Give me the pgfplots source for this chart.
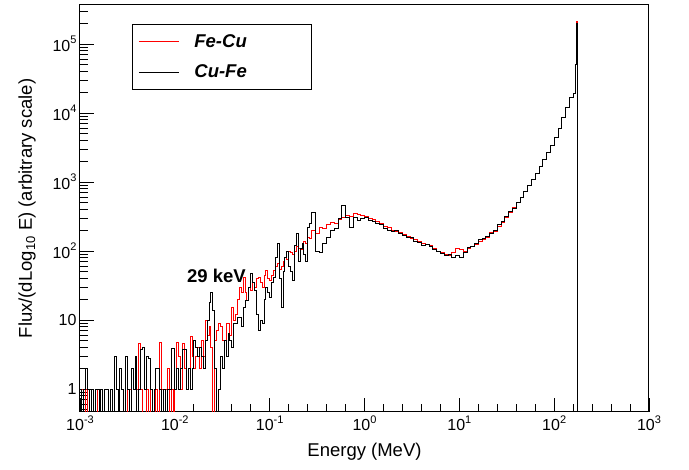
\documentclass[border=0pt]{standalone}
\usepackage{fontspec}
\setmainfont{Liberation Sans}
\usepackage{pgfplots}
\usepackage{pgfplotstable}
\pgfplotsset{compat=1.18}
\newcommand\sups[1]{\raisebox{0.48em}{\fontsize{11}{11}\selectfont #1}}

% E = left bin edge (MeV); red = Fe-Cu; black = Cu-Fe; 0.3 = empty bin (below axis)
\pgfplotstableread{
E red black
1.000e-3 1 1
1.047e-3 1 0.3
1.096e-3 0.3 1
1.148e-3 1 2
1.202e-3 0.3 1
1.259e-3 0.3 0.3
1.318e-3 1 1
1.380e-3 0.3 0.3
1.445e-3 0.3 1
1.514e-3 1 1
1.585e-3 1 0.3
1.660e-3 0.3 1
1.738e-3 0.3 0.3
1.820e-3 0.3 1
1.905e-3 0.3 1
1.995e-3 0.3 0.3
2.089e-3 0.3 1
2.188e-3 0.3 0.3
2.291e-3 0.3 3
2.399e-3 0.3 1
2.512e-3 1 0.3
2.630e-3 0.3 2
2.754e-3 0.3 1
2.884e-3 0.3 0.3
3.020e-3 0.3 3
3.162e-3 1 1
3.311e-3 1 0.3
3.467e-3 0.3 2
3.631e-3 0.3 1
3.802e-3 0.3 3
3.981e-3 1 0.3
4.169e-3 4.6 1
4.365e-3 1 3.7
4.571e-3 0.3 4
4.786e-3 0.3 1
5.012e-3 1 3
5.248e-3 0.3 2.8
5.495e-3 1 1
5.754e-3 0.3 0.3
6.026e-3 0.3 1
6.310e-3 1 2
6.607e-3 0.3 2
6.918e-3 4.8 1
7.244e-3 1 0.3
7.586e-3 0.3 1
7.943e-3 1 0.3
8.318e-3 2 1
8.710e-3 0.3 1
9.120e-3 1 3.9
9.550e-3 0.3 3.9
1.000e-2 1 1
1.047e-2 4.8 2
1.096e-2 3 1
1.148e-2 1 2
1.202e-2 4.6 3.7
1.259e-2 2 3.7
1.318e-2 1 1
1.380e-2 2 2
1.445e-2 5.7 1
1.514e-2 3 2
1.585e-2 2 5
1.660e-2 3 4
1.738e-2 4 3
1.820e-2 2 4
1.905e-2 5 3
1.995e-2 3 2
2.089e-2 10 5
2.188e-2 6 10
2.291e-2 8 18
2.399e-2 4 25
2.512e-2 0.3 14
2.630e-2 5 2
2.754e-2 7 0.3
2.884e-2 9 1
3.020e-2 8 3
3.162e-2 5 2
3.311e-2 5 5
3.467e-2 9 3
3.631e-2 9 6.5
3.802e-2 6 5
3.981e-2 15 4
4.169e-2 10 9
4.365e-2 12 9
4.571e-2 20 11
4.786e-2 30 11
5.012e-2 25 8
5.248e-2 42 15
5.495e-2 25 19
5.754e-2 19 19
6.026e-2 30 30
6.310e-2 27 48
6.607e-2 35 35
6.918e-2 30 27
7.244e-2 40 12
7.586e-2 42 7
7.943e-2 35 10
8.318e-2 30 9
8.710e-2 45 20
9.120e-2 53 30
9.550e-2 40 25
1.000e-1 38 21
1.047e-1 45 35
1.096e-1 53 42
1.148e-1 60 80
1.202e-1 67 130
1.259e-1 55 40
1.318e-1 60 15
1.380e-1 70 50
1.445e-1 82 82
1.514e-1 75 100
1.585e-1 100 60
1.660e-1 95 50
1.738e-1 90 38
1.820e-1 100 120
1.905e-1 115 180
1.995e-1 110 70
2.089e-1 105 110
2.188e-1 120 130
2.291e-1 140 90
2.399e-1 130 70
2.512e-1 160 220
2.630e-1 150 250
2.754e-1 200 360
3.020e-1 180 100
3.311e-1 220 96
3.631e-1 210 130
3.981e-1 240 160
4.365e-1 260 200
4.786e-1 250 215
5.248e-1 290 300
5.754e-1 310 465
6.310e-1 330 310
6.918e-1 320 220
7.586e-1 355 310
8.318e-1 340 280
9.120e-1 330 300
1.000 320 310
1.096 300 280
1.202 290 270
1.318 270 255
1.445 255 240
1.585 230 210
1.738 220 200
1.905 200 190
2.089 195 200
2.291 185 180
2.512 175 170
2.754 165 160
3.020 150 155
3.311 145 140
3.631 140 135
3.981 130 120
4.365 125 125
4.786 120 118
5.248 110 105
5.754 100 100
6.310 95 92
6.918 90 85
7.586 85 88
8.318 95 80
9.120 110 85
10.00 105 80
10.96 100 95
12.02 110 112
13.18 115 118
14.45 125 130
15.85 140 145
17.38 145 150
19.05 160 165
20.89 185 182
22.91 195 200
25.12 225 240
27.54 260 270
30.20 310 320
33.11 360 370
36.31 430 420
39.81 510 500
43.65 600 600
47.86 730 720
52.48 880 900
57.54 1100 1100
63.10 1350 1350
69.18 1700 1700
75.86 2100 2100
83.18 2700 2700
91.20 3400 3400
100.0 4500 4500
109.6 6000 6000
120.2 8500 8500
131.8 12000 12000
144.5 17000 17000
158.5 19000 19000
166.0 50000 50000
170.0 210000 200000
174.0 0.3 0.3
1000 0.3 0.3
}\spectrum

\begin{document}
\begin{tikzpicture}
\begin{axis}[
  scale only axis, width=569pt, height=407pt,
  xmode=log, ymode=log,
  xmin=1e-3, xmax=1e3, ymin=0.465, ymax=3.67e5,
  axis line style={line width=1pt},
  tick align=inside, tick pos=left,
  major tick length=14pt, minor tick length=8pt,
  every tick/.style={black, line width=0.8pt},
  xtick={1e-3,1e-2,1e-1,1,10,100,1000},
  xticklabels={10\sups{-3},10\sups{-2},10\sups{-1},10\sups{0},10\sups{1},10\sups{2},10\sups{3}},
  minor xtick={1.585e-3,2.512e-3,3.981e-3,6.310e-3,1.585e-2,2.512e-2,3.981e-2,6.310e-2,0.1585,0.2512,0.3981,0.6310,1.585,2.512,3.981,6.310,15.85,25.12,39.81,63.10,158.5,251.2,398.1,631.0},
  ytick={1,10,100,1000,10000,100000},
  yticklabels={1,10,10\sups{2},10\sups{3},10\sups{4},10\sups{5}},
  minor ytick={0.5,0.6,0.7,0.8,0.9,2,3,4,5,6,7,8,9,20,30,40,50,60,70,80,90,200,300,400,500,600,700,800,900,2000,3000,4000,5000,6000,7000,8000,9000,20000,30000,40000,50000,60000,70000,80000,90000,200000,300000},
  tick label style={font=\fontsize{16}{16}\selectfont},
  xlabel={Energy (MeV)},
  ylabel={Flux/(dLog\textsubscript{10} E) (arbitrary scale)},
  every axis x label/.style={at={(axis description cs:0.5,0)}, anchor=base, yshift=-45pt, font=\fontsize{18.5}{20}\selectfont},
  every axis y label/.style={at={(axis description cs:-0.0844,0.5)}, rotate=90, anchor=base, font=\fontsize{18.5}{20}\selectfont},
  legend style={at={(0.0914,0.953)}, anchor=north west, draw=black, line width=0.8pt,
    font=\bfseries\itshape\fontsize{18.5}{20}\selectfont,
    inner xsep=6pt, inner ysep=8pt, row sep=12pt, column sep=13pt},
  legend cell align=left,
  legend image code/.code={\draw[#1, line width=1pt] (0pt,0pt) -- (40pt,0pt);},
]
\addplot[red, line width=0.8pt, const plot] table[x=E, y=red] {\spectrum};
\addlegendentry{\makebox[109pt][l]{Fe-Cu}}
\addplot[black, line width=0.8pt, const plot] table[x=E, y=black] {\spectrum};
\addlegendentry{\makebox[109pt][l]{Cu-Fe}}
\node[anchor=base west, inner sep=0pt, font=\bfseries\fontsize{18.5}{20}\selectfont] at (axis cs:0.0134,34.4) {29 keV};
\end{axis}
\pgfresetboundingbox
\path ([shift={(-80pt,-58pt)}]current axis.south west) rectangle ([shift={(40pt,5pt)}]current axis.north east);
\end{tikzpicture}
\end{document}
